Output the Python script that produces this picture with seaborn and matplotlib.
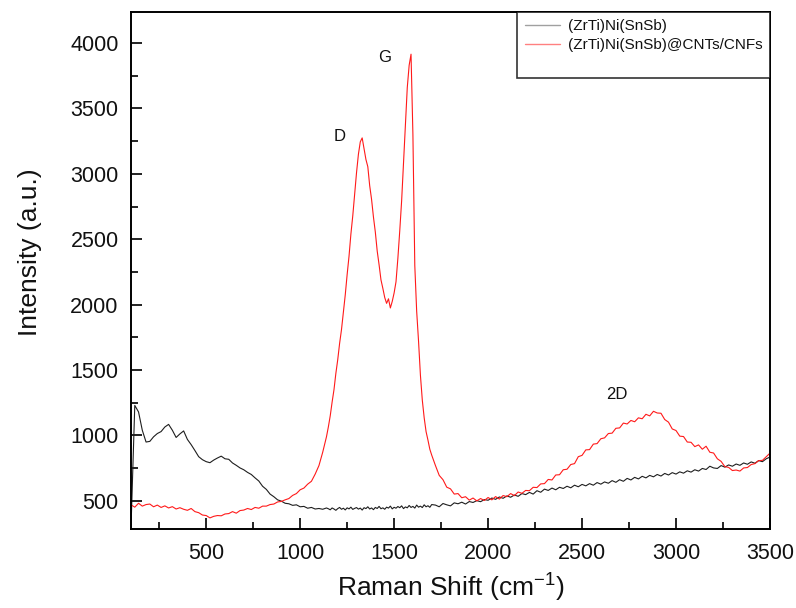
import numpy as np
import seaborn as sns
import matplotlib.pyplot as plt
from matplotlib.lines import Line2D
from matplotlib.ticker import MultipleLocator

# Raman shift sampling positions (cm-1)
shift = np.concatenate([np.arange(100, 1141, 20),
                        np.arange(1150, 1701, 10),
                        np.arange(1720, 3501, 20)])

# (ZrTi)Ni(SnSb) - values
bare = [
    # 100 - 1140 (step 20)
    300, 1230, 1180, 1040, 950, 955, 990, 1015, 1030, 1065,
    1085, 1040, 985, 1012, 1035, 970, 930, 885, 838, 815,
    800, 792, 812, 828, 842, 822, 818, 790, 772, 752,
    738, 718, 702, 676, 652, 612, 588, 552, 532, 508,
    498, 482, 478, 466, 470, 455, 458, 444, 450, 438,
    442, 436, 446,
    # 1150 - 1700 (step 10)
    440, 432, 446, 438, 428, 441, 450, 436, 444, 431,
    447, 439, 452, 435, 443, 449, 437, 445, 430, 448,
    441, 455, 438, 446, 433, 450, 442, 458, 440, 447,
    436, 452, 445, 460, 439, 451, 444, 457, 448, 462,
    441, 454, 447, 465, 450, 458, 445, 468, 452, 460,
    449, 470, 455, 463, 451, 472,
    # 1720 - 3500 (step 20)
    468, 455, 480, 470, 462, 485, 478, 490, 476, 495,
    488, 502, 494, 510, 505, 522, 512, 530, 520, 538,
    528, 545, 535, 556, 548, 565, 552, 578, 566, 590,
    580, 598, 585, 604, 595, 612, 600, 620, 608, 626,
    615, 632, 620, 640, 628, 645, 635, 655, 642, 662,
    650, 672, 660, 680, 668, 688, 676, 695, 684, 702,
    690, 710, 698, 716, 705, 722, 712, 730, 720, 738,
    728, 748, 740, 765, 752, 748, 770, 758, 775, 765,
    782, 772, 790, 780, 798, 788, 808, 800, 822, 835,
]

# (ZrTi)Ni(SnSb)@CNTs/CNFs
composite = [
    # 100 - 1140 (step 20)
    470, 452, 482, 460, 472, 476, 455, 468, 450, 462,
    446, 456, 438, 448, 436, 428, 442, 418, 410, 392,
    388, 370, 382, 388, 386, 400, 403, 418, 406, 426,
    430, 442, 434, 450, 444, 460, 460, 472, 476, 492,
    496, 508, 518, 542, 556, 585, 598, 628, 650, 705,
    770, 872, 990,
    # 1150 - 1700 (step 10)
    1065, 1150, 1255, 1350, 1475, 1580, 1705, 1810, 1945, 2075,
    2230, 2370, 2540, 2680, 2845, 3010, 3150, 3245, 3275, 3190,
    3110, 3055, 2910, 2805, 2670, 2555, 2410, 2305, 2190, 2125,
    2055, 2010, 2045, 1975, 2025, 2090, 2175, 2355, 2565, 2795,
    3085, 3390, 3660, 3830, 3915, 3300, 2300, 1950, 1720, 1460,
    1270, 1135, 1030, 965, 895, 850,
    # 1720 - 3500 (step 20)
    770, 695, 662, 605, 592, 552, 556, 524, 532, 506,
    522, 500, 518, 503, 526, 508, 533, 514, 541, 532,
    556, 540, 568, 558, 580, 578, 604, 602, 630, 632,
    664, 660, 698, 700, 738, 742, 778, 785, 838, 848,
    890, 892, 934, 938, 975, 982, 1015, 1018, 1055, 1058,
    1095, 1088, 1115, 1105, 1135, 1128, 1162, 1150, 1185, 1172,
    1170, 1122, 1102, 1050, 1038, 995, 992, 950, 948, 915,
    928, 895, 918, 872, 866, 822, 802, 762, 756, 732,
    736, 728, 752, 755, 778, 785, 808, 810, 838, 865,
]

series_labels = ['(ZrTi)Ni(SnSb)', '(ZrTi)Ni(SnSb)@CNTs/CNFs']
peak_labels = ['D', 'G', '2D']
peak_pos = [(1212, 3282), (1451, 3886), (2685, 1310)]

sns.set_style('ticks')
plt.rcParams['font.family'] = ['Liberation Sans', 'DejaVu Sans']
plt.rcParams['mathtext.fontset'] = 'custom'
plt.rcParams['mathtext.rm'] = 'Liberation Sans'
plt.rcParams['mathtext.it'] = 'Liberation Sans'
plt.rcParams['text.color'] = '#111111'
plt.rcParams['axes.labelcolor'] = '#111111'
plt.rcParams['xtick.color'] = '#111111'
plt.rcParams['ytick.color'] = '#111111'

fig = plt.figure(figsize=(7.96, 6.08), dpi=100)
ax = fig.add_axes([0.1646, 0.1299, 0.8027, 0.8509])

sns.lineplot(x=shift, y=bare, ax=ax, color='#1e1e1e', linewidth=0.8,
             estimator=None, sort=False)
sns.lineplot(x=shift, y=composite, ax=ax, color='#ff1a1a', linewidth=0.8,
             estimator=None, sort=False)

for lab, (px, py) in zip(peak_labels, peak_pos):
    ax.text(px, py, lab, fontsize=12, ha='center', va='center')

ax.set_xlim(100, 3500)
ax.set_ylim(285, 4240)
ax.xaxis.set_major_locator(MultipleLocator(500))
ax.xaxis.set_minor_locator(MultipleLocator(250))
ax.yaxis.set_major_locator(MultipleLocator(500))
ax.yaxis.set_minor_locator(MultipleLocator(250))
ax.tick_params(which='both', direction='in', width=1.3, labelsize=15.5)
ax.tick_params(axis='x', pad=10)
ax.tick_params(axis='y', pad=9)
ax.tick_params(which='major', length=8)
ax.tick_params(which='minor', length=5)
for s in ax.spines.values():
    s.set_linewidth(1.4)
    s.set_color('black')

ax.set_xlabel('Raman Shift (cm$^{-1}$)', fontsize=19, labelpad=6)
ax.set_ylabel('Intensity (a.u.)', fontsize=19)
ax.yaxis.set_label_coords(-0.14, 0.536)

handles = [Line2D([], [], color='#a0a0a0', linewidth=1),
           Line2D([], [], color='#ff8080', linewidth=1),
           Line2D([], [], color='none')]
leg = ax.legend(handles, series_labels + [' '], loc='upper right',
                fontsize=11, frameon=True, fancybox=False, edgecolor='black',
                borderaxespad=0, handlelength=2.3, handletextpad=0.5,
                labelspacing=0.3, borderpad=0.5)
leg.get_frame().set_linewidth(1.2)

plt.savefig('out.png', dpi=100)
